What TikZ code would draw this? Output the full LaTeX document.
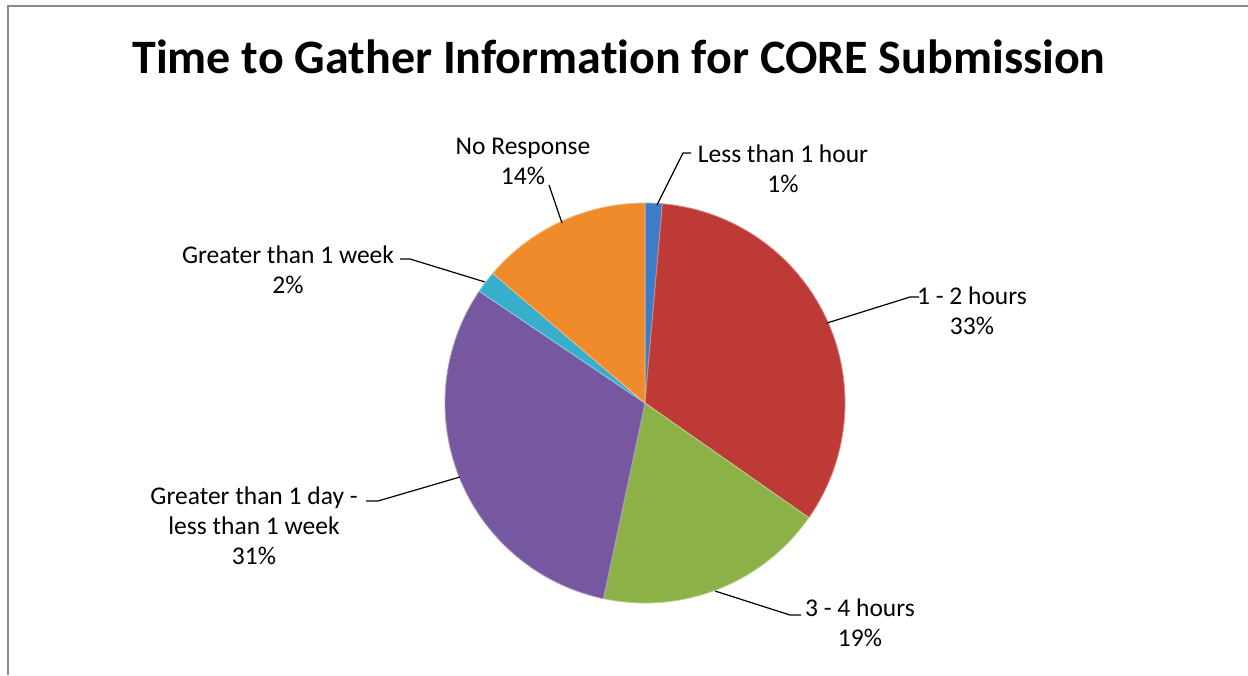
\documentclass[tikz,border=0pt]{standalone}
\usepackage{fontspec}
\setmainfont[Ligatures=NoCommon]{Carlito}
\definecolor{cblue}{HTML}{3D7CC6}
\definecolor{cred}{HTML}{BE3A37}
\definecolor{cgreen}{HTML}{8CB247}
\definecolor{cpurple}{HTML}{7658A0}
\definecolor{caqua}{HTML}{37AECB}
\definecolor{corange}{HTML}{F08B2C}
\definecolor{framegray}{HTML}{8C8C8C}
\begin{document}
\begin{tikzpicture}[x=1pt,y=1pt,
  slice/.style={line width=0.8pt, line join=round},
  leader/.style={line width=1.2pt, black},
  lbl/.style={font=\fontsize{25.5}{30}\selectfont, align=center, inner sep=0pt},
  ttl/.style={font=\fontsize{48}{56}\selectfont\bfseries, inner sep=0pt}]
\useasboundingbox (0,0) rectangle (1248,-675);
\fill[white] (0,0) rectangle (1248,-675);
\draw[framegray, line width=1.8pt] (8,-675) -- (8,-6) -- (1248,-6);
\node[ttl] (title) at (619,-57) {Time to Gather Information for CORE Submission};
\coordinate (c) at (645,-403);
\def\R{200}
% slices (clockwise from top)
\filldraw[slice, fill=cblue, draw=cblue!60!white] (c) -- ++(90:\R) arc[start angle=90, end angle=85, radius=\R] -- cycle;
\filldraw[slice, fill=cred, draw=cred!60!white] (c) -- ++(85:\R) arc[start angle=85, end angle=-35, radius=\R] -- cycle;
\filldraw[slice, fill=cgreen, draw=cgreen!60!white] (c) -- ++(-35:\R) arc[start angle=-35, end angle=-102, radius=\R] -- cycle;
\filldraw[slice, fill=cpurple, draw=cpurple!60!white] (c) -- ++(-102:\R) arc[start angle=-102, end angle=-214, radius=\R] -- cycle;
\filldraw[slice, fill=caqua, draw=caqua!60!white] (c) -- ++(-214:\R) arc[start angle=-214, end angle=-220.4, radius=\R] -- cycle;
\filldraw[slice, fill=corange, draw=corange!60!white] (c) -- ++(-220.4:\R) arc[start angle=-220.4, end angle=-270, radius=\R] -- cycle;
% labels
\node[lbl] (l1) at (783,-169) {Less than 1 hour\\1\%};
\node[lbl] (l2) at (972,-311) {1 - 2 hours\\33\%};
\node[lbl] (l3) at (860,-623) {3 - 4 hours\\19\%};
\node[lbl] (l4) at (254,-526) {Greater than 1 day -\\less than 1 week\\31\%};
\node[lbl] (l5) at (288,-270) {Greater than 1 week\\2\%};
\node[lbl] (l6) at (523,-161) {No Response\\14\%};
% leader points
\coordinate (p1a) at (657,-205); \coordinate (p1b) at (683,-153); \coordinate (p1c) at (691,-153);
\coordinate (p2a) at (827,-323); \coordinate (p2b) at (910,-297); \coordinate (p2c) at (919,-297);
\coordinate (p3a) at (715,-591); \coordinate (p3b) at (790,-615); \coordinate (p3c) at (801,-615);
\coordinate (p4a) at (460,-477); \coordinate (p4b) at (378,-501); \coordinate (p4c) at (366,-501);
\coordinate (p5a) at (485,-282); \coordinate (p5b) at (410,-259); \coordinate (p5c) at (400,-259);
\coordinate (p6a) at (562,-223); \coordinate (p6b) at (549,-185);
\draw[leader] (p1a) -- (p1b) -- (p1c);
\draw[leader] (p2a) -- (p2b) -- (p2c);
\draw[leader] (p3a) -- (p3b) -- (p3c);
\draw[leader] (p4a) -- (p4b) -- (p4c);
\draw[leader] (p5a) -- (p5b) -- (p5c);
\draw[leader] (p6a) -- (p6b);
\end{tikzpicture}
\end{document}
